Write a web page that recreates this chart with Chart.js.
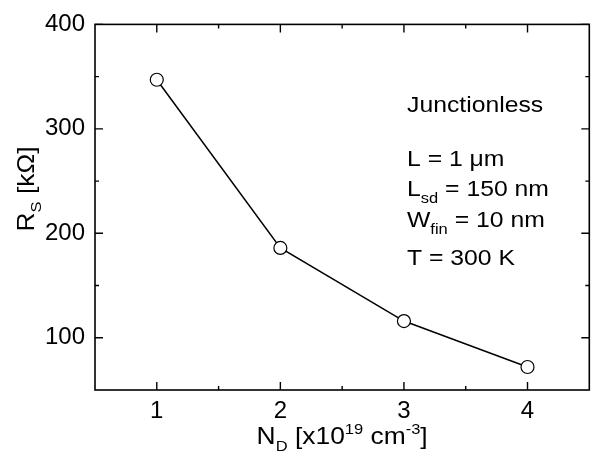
<!DOCTYPE html>
<html>
<head>
<meta charset="utf-8">
<script src="https://cdn.jsdelivr.net/npm/chart.js@4"></script>
<style>
  html, body { margin: 0; padding: 0; background: #fff; }
  #wrap { width: 597px; height: 454px; }
</style>
</head>
<body>
<div id="wrap"><canvas id="rsChart" width="597" height="454"></canvas></div>
<script>
// data
const dopingND = [1, 2, 3, 4];          // x10^19 cm^-3
const seriesRS = [347, 186, 116, 72];   // kOhm
const xTicks = [1, 2, 3, 4];
const xMinor = [1.5, 2.5, 3.5];
const yTicks = [100, 200, 300, 400];
const yMinor = [150, 250, 350];
const notes = [
    [['Junctionless', '']],
    [['L = 1 ', ''], ['μ', ''], ['m', '']],
    [['L', ''], ['sd', 'sub'], [' = 150 nm', '']],
    [['W', ''], ['fin', 'sub'], [' = 10 nm', '']],
    [['T = 300 K', '']]
];
const noteBaselines = [112, 166, 196, 227, 265];

const FONT = '"Liberation Sans", Arial, sans-serif';
const HS = 1.1; // the original lettering is a bit wide

// text made of runs: '' normal, 'sub' subscript, 'sup' superscript
function runsWidth(ctx, runs, big, small) {
    let w = 0;
    runs.forEach(([t, k]) => {
        ctx.font = (k ? small : big) + 'px ' + FONT;
        w += ctx.measureText(t).width;
    });
    return w * HS;
}
function drawRuns(ctx, runs, x, y, big, small) {
    ctx.save();
    ctx.translate(x, y);
    ctx.scale(HS, 1);
    let cx = 0;
    runs.forEach(([t, k]) => {
        ctx.font = (k ? small : big) + 'px ' + FONT;
        let dy = 0;
        if (k === 'sub') dy = 7;
        if (k === 'sup') dy = -10;
        ctx.fillText(t, cx, dy);
        cx += ctx.measureText(t).width;
    });
    ctx.restore();
}

const framePlugin = {
    id: 'frame',
    afterDatasetsDraw(chart) {
        const { ctx, chartArea: a, scales: { x, y } } = chart;
        ctx.save();
        ctx.strokeStyle = '#000';
        ctx.lineWidth = 1.6;
        ctx.strokeRect(a.left, a.top, a.right - a.left, a.bottom - a.top);

        ctx.lineWidth = 1.4;
        ctx.beginPath();
        const xt = (v, len) => {
            const px = x.getPixelForValue(v);
            ctx.moveTo(px, a.bottom); ctx.lineTo(px, a.bottom - len);
            ctx.moveTo(px, a.top); ctx.lineTo(px, a.top + len);
        };
        const yt = (v, len) => {
            const py = y.getPixelForValue(v);
            ctx.moveTo(a.left, py); ctx.lineTo(a.left + len, py);
            ctx.moveTo(a.right, py); ctx.lineTo(a.right - len, py);
        };
        xTicks.forEach(v => xt(v, 8));
        xMinor.forEach(v => xt(v, 4));
        yTicks.forEach(v => yt(v, 8));
        yMinor.forEach(v => yt(v, 4));
        ctx.stroke();

        // annotations
        ctx.fillStyle = '#000';
        ctx.textBaseline = 'alphabetic';
        ctx.textAlign = 'left';
        notes.forEach((runs, i) => drawRuns(ctx, runs, 407, noteBaselines[i], 22.5, 15));

        // x title
        const xRuns = [['N', ''], ['D', 'sub'], [' [x10', ''], ['19', 'sup'], [' cm', ''], ['-3', 'sup'], [']', '']];
        const xw = runsWidth(ctx, xRuns, 24, 15);
        drawRuns(ctx, xRuns, (a.left + a.right) / 2 - xw / 2, 444, 24, 15);

        // y title (rotated)
        const yRuns = [['R', ''], ['S', 'sub'], [' [kΩ]', '']];
        const yw = runsWidth(ctx, yRuns, 24, 15);
        ctx.translate(34, 189);
        ctx.rotate(-Math.PI / 2);
        drawRuns(ctx, yRuns, -yw / 2, 0, 24, 15);
        ctx.restore();
    }
};

new Chart(document.getElementById('rsChart'), {
    type: 'line',
    data: {
        datasets: [{
            data: dopingND.map((v, i) => ({ x: v, y: seriesRS[i] })),
            borderColor: '#000',
            borderWidth: 1.5,
            pointRadius: 6.5,
            pointBackgroundColor: '#fff',
            pointBorderColor: '#000',
            pointBorderWidth: 1.2,
            tension: 0
        }]
    },
    options: {
        responsive: false,
        animation: false,
        layout: { padding: { top: 20, right: 4, left: 0, bottom: 0 } },
        plugins: { legend: { display: false }, tooltip: { enabled: false } },
        scales: {
            x: {
                type: 'linear',
                min: 0.5,
                max: 4.5,
                afterBuildTicks: s => { s.ticks = xTicks.map(v => ({ value: v })); },
                afterFit: s => { s.height = 64; },
                grid: { display: false, drawTicks: false },
                border: { display: false },
                ticks: { color: '#000', padding: 7, font: { family: FONT, size: 24 }, maxRotation: 0 }
            },
            y: {
                min: 50,
                max: 400,
                afterBuildTicks: s => { s.ticks = yTicks.map(v => ({ value: v })); },
                afterFit: s => { s.width = 95; },
                grid: { display: false, drawTicks: false },
                border: { display: false },
                ticks: { color: '#000', padding: 10, font: { family: FONT, size: 24 } }
            }
        }
    },
    plugins: [framePlugin]
});
</script>
</body>
</html>
